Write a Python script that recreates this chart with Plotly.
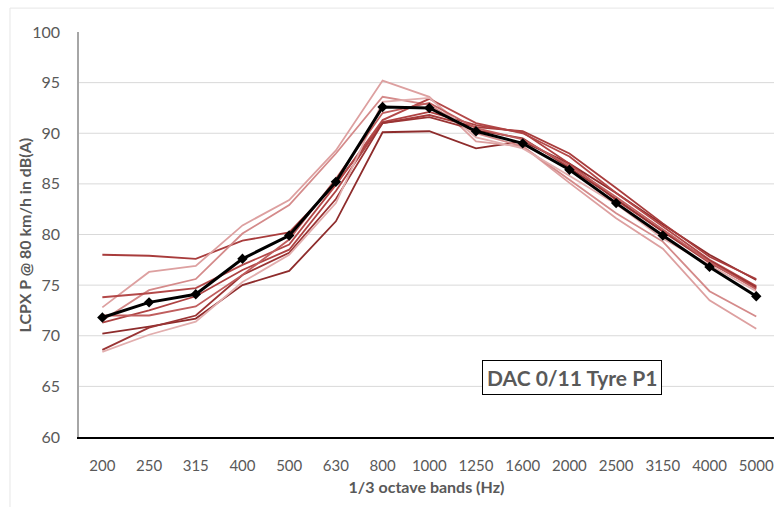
import plotly.graph_objects as go

bands = ["200", "250", "315", "400", "500", "630", "800", "1000", "1250",
         "1600", "2000", "2500", "3150", "4000", "5000"]

s1 = [70.2, 70.9, 71.7, 75.0, 76.4, 81.3, 90.1, 90.2, 88.5, 89.2, 87.0, 84.1, 81.0, 78.0, 75.5]
s2 = [78.0, 77.9, 77.6, 79.4, 80.2, 85.0, 91.0, 91.8, 90.6, 90.2, 88.0, 84.6, 81.1, 77.8, 75.6]
s3 = [72.8, 76.3, 76.9, 80.9, 83.4, 88.3, 95.2, 93.6, 89.2, 88.7, 85.1, 81.6, 78.6, 73.5, 70.7]
s4 = [71.5, 74.5, 75.6, 80.1, 82.9, 88.0, 93.6, 92.8, 90.0, 88.7, 85.4, 82.1, 79.3, 74.4, 71.9]
s5 = [73.8, 74.2, 74.7, 77.0, 79.0, 84.9, 91.3, 93.4, 91.0, 90.0, 87.7, 84.1, 80.8, 77.5, 74.9]
s6 = [71.3, 72.5, 73.9, 76.5, 78.5, 84.3, 91.1, 92.1, 90.8, 90.1, 87.0, 83.4, 80.3, 77.2, 74.7]
s7 = [68.6, 70.8, 72.0, 76.0, 78.2, 83.5, 91.0, 91.6, 90.3, 89.5, 86.6, 83.5, 80.3, 77.4, 74.8]
s8 = [68.4, 70.1, 71.4, 75.3, 78.0, 83.1, 93.1, 93.5, 89.6, 88.5, 85.8, 83.0, 79.6, 77.0, 74.4]
s9 = [72.0, 72.0, 72.9, 76.0, 79.5, 85.5, 92.0, 93.0, 90.5, 89.4, 86.8, 83.7, 80.5, 77.3, 74.6]
mean = [71.8, 73.3, 74.1, 77.6, 79.9, 85.2, 92.6, 92.5, 90.2, 89.0, 86.4, 83.1, 79.9, 76.8, 73.9]

series = [s1, s2, s3, s4, s5, s6, s7, s8, s9]
colors = ["#8E2C2C", "#A83C3C", "#DDA0A0", "#D48A8A", "#B34848",
          "#AE4242", "#9A3434", "#E2AEAE", "#C05E5E"]

y_ticks = [60, 65, 70, 75, 80, 85, 90, 95, 100]
grid_vals = [65, 70, 75, 80, 85, 90, 95]

fig = go.Figure()
for s, c in zip(series, colors):
    fig.add_trace(go.Scatter(x=bands, y=s, mode="lines",
                             line=dict(color=c, width=1.8), showlegend=False,
                             hoverinfo="skip"))
fig.add_trace(go.Scatter(x=bands, y=mean, mode="lines+markers",
                         line=dict(color="#000000", width=3),
                         marker=dict(symbol="diamond", size=8, color="#000000"),
                         showlegend=False))

shapes = []
for g in grid_vals:
    shapes.append(dict(type="line", xref="paper", yref="y", x0=0, x1=1, y0=g, y1=g,
                       line=dict(color="#D9D9D9", width=1), layer="below"))
# outer chart frame (faint)
shapes.append(dict(type="line", xref="paper", yref="paper", x0=-0.0993, x1=-0.0993,
                   y0=1.059, y1=-0.2, line=dict(color="#E6E6E6", width=1)))
shapes.append(dict(type="line", xref="paper", yref="paper", x0=-0.0993, x1=1.05,
                   y0=1.059, y1=1.059, line=dict(color="#E6E6E6", width=1)))

fig.update_layout(
    width=774, height=507,
    margin=dict(l=79, r=0, t=32, b=70),
    paper_bgcolor="white", plot_bgcolor="white",
    font=dict(family="Lato, Open Sans, sans-serif", color="#595959"),
    shapes=shapes,
    xaxis=dict(type="category", range=[-0.5, 14.38], showgrid=False,
               showline=True, linecolor="#000000", linewidth=1.5,
               ticks="", tickfont=dict(size=15, color="#595959"),
               ticklabelstandoff=14,
               title=dict(text="<b>1/3 octave bands (Hz)</b>", standoff=9,
                          font=dict(size=16, color="#595959"))),
    yaxis=dict(range=[60, 100], tickvals=y_ticks, showgrid=False, zeroline=False,
               showline=True, linecolor="#A6A6A6", linewidth=1.5,
               ticks="", tickfont=dict(size=16, color="#595959"),
               ticklabelstandoff=14),
    annotations=[
        dict(text="<b>LCPX P @ 80 km/h in dB(A)</b>", xref="paper", yref="paper",
             x=-0.0777, y=0.5, xanchor="center", yanchor="middle", textangle=-90,
             showarrow=False, font=dict(size=16, color="#595959")),
        dict(text="<b>DAC 0/11 Tyre P1</b>", xref="paper", yref="paper",
             x=0.709, y=0.146, xanchor="center", yanchor="middle", showarrow=False,
             font=dict(size=21, color="#595959", family="Lato, Open Sans, sans-serif"),
             bordercolor="#000000", borderwidth=1, borderpad=4,
             bgcolor="white")],
)

fig.write_html("out.html")
